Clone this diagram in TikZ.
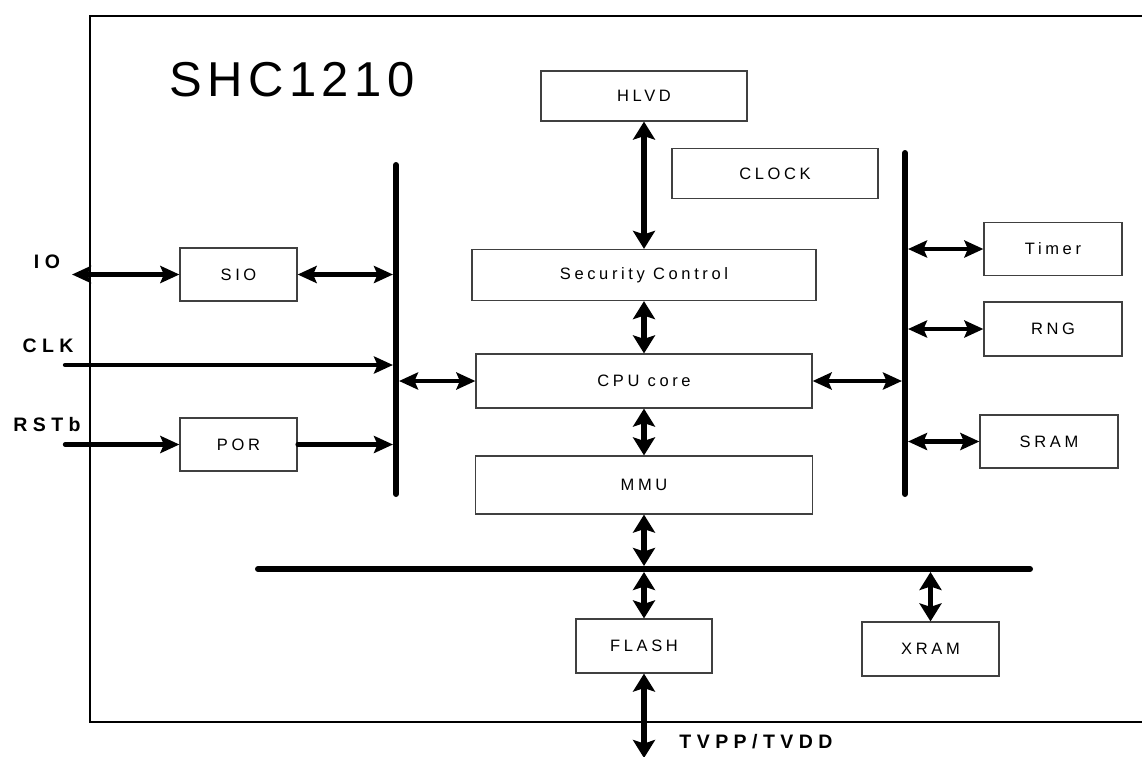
\documentclass[tikz,border=0pt]{standalone}
\usepackage{fontspec}
\setmainfont{Liberation Sans}
\newfontfamily\boxfont[LetterSpace=22]{Liberation Sans}
\newfontfamily\labfont[LetterSpace=28,BoldFont={Liberation Sans Bold}]{Liberation Sans}
\newfontfamily\titlefont[LetterSpace=11]{Liberation Sans}
\usetikzlibrary{arrows.meta}
\tikzset{
  blk/.style={draw=black!75, line width=1.2pt, fill=white, inner sep=0pt,
    font=\boxfont\fontsize{16.5pt}{16.5pt}\selectfont},
  pin/.style={inner sep=0pt, font=\labfont\bfseries\fontsize{19.5pt}{19.5pt}\selectfont},
  hhead/.tip={Stealth[length=19pt,width=17pt,inset=3.5pt]},
  vhead/.tip={Stealth[length=18pt,width=22pt,inset=3.5pt]},
  hbiarr/.style={line width=4.3pt, {hhead}-{hhead}},
  vbiarr/.style={line width=5.3pt, {vhead}-{vhead}},
  oneway/.style={line width=4.3pt, line cap=round, -{hhead}},
  bus/.style={line width=6pt, line cap=round},
}
\begin{document}
\begin{tikzpicture}[x=1pt,y=-1pt]
\useasboundingbox (0,0) rectangle (1142,756);
\fill[white] (0,0) rectangle (1142,756);
% outer frame
\coordinate (ftl) at (90,16);
\coordinate (fbl) at (90,722);
\coordinate (ftr) at (1150,16);
\coordinate (fbr) at (1150,722);
\draw[line width=1.3pt] (ftr) -- (ftl) -- (fbl) -- (fbr);
% title
\node[inner sep=0pt, font=\titlefont\fontsize{49pt}{49pt}\selectfont] (title) at (292,80) {SHC1210};
% buses
\coordinate (lbtop) at (396,165);
\coordinate (lbbot) at (396,494);
\coordinate (rbtop) at (905,153);
\coordinate (rbbot) at (905,494);
\coordinate (hbl) at (258,569);
\coordinate (hbr) at (1030,569);
\draw[bus] (lbtop) -- (lbbot);
\draw[bus] (rbtop) -- (rbbot);
\draw[bus] (hbl) -- (hbr);
\coordinate (lbL) at (393,0);
\coordinate (lbR) at (399,0);
\coordinate (rbL) at (902,0);
\coordinate (rbR) at (908,0);
\coordinate (hbT) at (0,566);
\coordinate (hbB) at (0,572);
% blocks
\node[blk, minimum width=206pt, minimum height=50pt] (hlvd) at (644,96) {HLVD};
\node[blk, minimum width=206pt, minimum height=50pt] (clock) at (775,173.5) {CLOCK};
\node[blk, minimum width=344pt, minimum height=51pt] (sec) at (644,275) {Security Control};
\node[blk, minimum width=336pt, minimum height=54pt] (cpu) at (644,381) {CPU core};
\node[blk, minimum width=337pt, minimum height=58pt] (mmu) at (644,485) {MMU};
\node[blk, minimum width=117pt, minimum height=53pt] (sio) at (238.5,274.5) {SIO};
\node[blk, minimum width=117pt, minimum height=53pt] (por) at (238.5,444.5) {POR};
\node[blk, minimum width=138pt, minimum height=53pt] (timer) at (1053,249) {Timer};
\node[blk, minimum width=138pt, minimum height=54pt] (rng) at (1053,329) {RNG};
\node[blk, minimum width=138pt, minimum height=53pt] (sram) at (1049,441.5) {SRAM};
\node[blk, minimum width=136pt, minimum height=54pt] (flash) at (644,646) {FLASH};
\node[blk, minimum width=137pt, minimum height=54pt] (xram) at (930.5,649) {XRAM};
% pin labels
\node[pin] (iol) at (47,262) {IO};
\node[pin] (clkl) at (48,346) {CLK};
\node[pin] (rstl) at (47,424.5) {RSTb};
\node[pin] (tvl) at (756,742) {TVPP/TVDD};
% external ends
\coordinate (io) at (72,274.5);
\coordinate (clk) at (65,365);
\coordinate (rst) at (65,444.5);
\coordinate (tv) at (644,758);
% connectors left
\draw[hbiarr] (io) -- (sio.west);
\draw[hbiarr] (sio.east) -- (sio.east -| lbL);
\draw[oneway] (clk) -- (clk -| lbL);
\draw[oneway] (rst) -- (por.west);
\draw[oneway] (por.east) -- (por.east -| lbL);
\draw[hbiarr] (lbR |- cpu.west) -- (cpu.west);
% connectors right
\draw[hbiarr] (cpu.east) -- (cpu.east -| rbL);
\draw[hbiarr] (rbR |- timer.west) -- (timer.west);
\draw[hbiarr] (rbR |- rng.west) -- (rng.west);
\draw[hbiarr] (rbR |- sram.west) -- (sram.west);
% vertical connectors
\draw[vbiarr] (hlvd.south) -- (sec.north);
\draw[vbiarr] (sec.south) -- (cpu.north);
\draw[vbiarr] (cpu.south) -- (mmu.north);
\draw[vbiarr] (mmu.south) -- (mmu.south |- hbT);
\draw[vbiarr] (flash.north |- hbB) -- (flash.north);
\draw[vbiarr] (xram.north |- hbB) -- (xram.north);
\draw[vbiarr] (flash.south) -- (tv);
\end{tikzpicture}
\end{document}
